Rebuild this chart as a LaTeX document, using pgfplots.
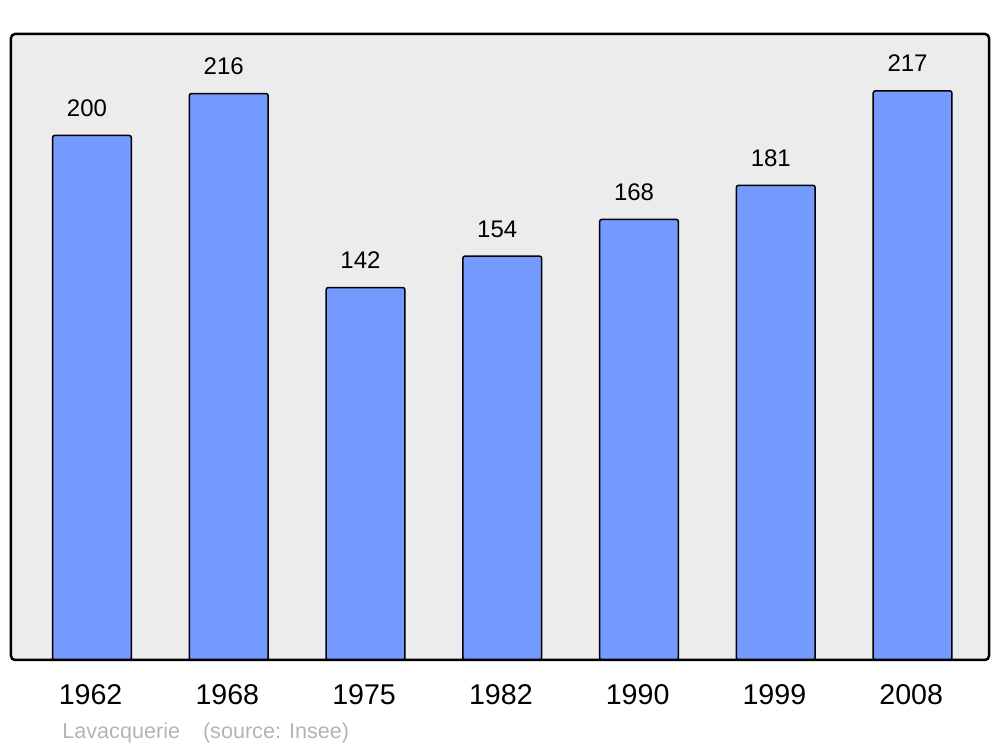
\documentclass[border=0pt]{standalone}
\usepackage{pgfplots}
\pgfplotsset{compat=1.18}
\usepackage{fontspec}
\setmainfont{Liberation Sans}
\definecolor{barblue}{HTML}{7499FF}
\definecolor{panel}{HTML}{ECECEC}
\definecolor{note}{HTML}{B4B4B4}
\begin{document}
\begin{tikzpicture}
\begin{axis}[
  width=489pt, height=313pt, scale only axis,
  xmin=-0.592, xmax=6.559, ymin=0, ymax=238.7,
  axis line style={draw=none},
  axis background/.style={fill=panel, rounded corners=2pt},
  xtick=data, xticklabels={1962,1968,1975,1982,1990,1999,2008},
  ytick=\empty, major tick length=0pt,
  xticklabel style={font=\fontsize{14.3}{14.3}\selectfont, anchor=base, yshift=-22.5pt, xshift=-0.7pt},
  /pgf/number format/assume math mode=true,
  ybar, bar width=0.575,
  nodes near coords,
  every node near coord/.append style={font=\fontsize{12}{12}\selectfont, anchor=base, yshift=9.5pt, xshift=-2.5pt},
  clip=false,
]
\addplot[fill=barblue, draw=black, line width=0.75pt, rounded corners=1pt]
  coordinates {(0,200) (1,216) (2,142) (3,154) (4,168) (5,181) (6,217)};
\draw[line width=1.25pt, rounded corners=2pt] (rel axis cs:0,0) rectangle (rel axis cs:1,1);
\node[anchor=base west, inner sep=0pt, text=note, font=\fontsize{10.8}{10.8}\selectfont]
  at ([xshift=25.5pt, yshift=-39.2pt]rel axis cs:0,0) {Lavacquerie\hspace{11.5pt}(source: Insee)};
\path ([xshift=-5.5pt,yshift=-43.5pt]rel axis cs:0,0) ([xshift=5.5pt,yshift=17pt]rel axis cs:1,1);
\end{axis}
\end{tikzpicture}
\end{document}
